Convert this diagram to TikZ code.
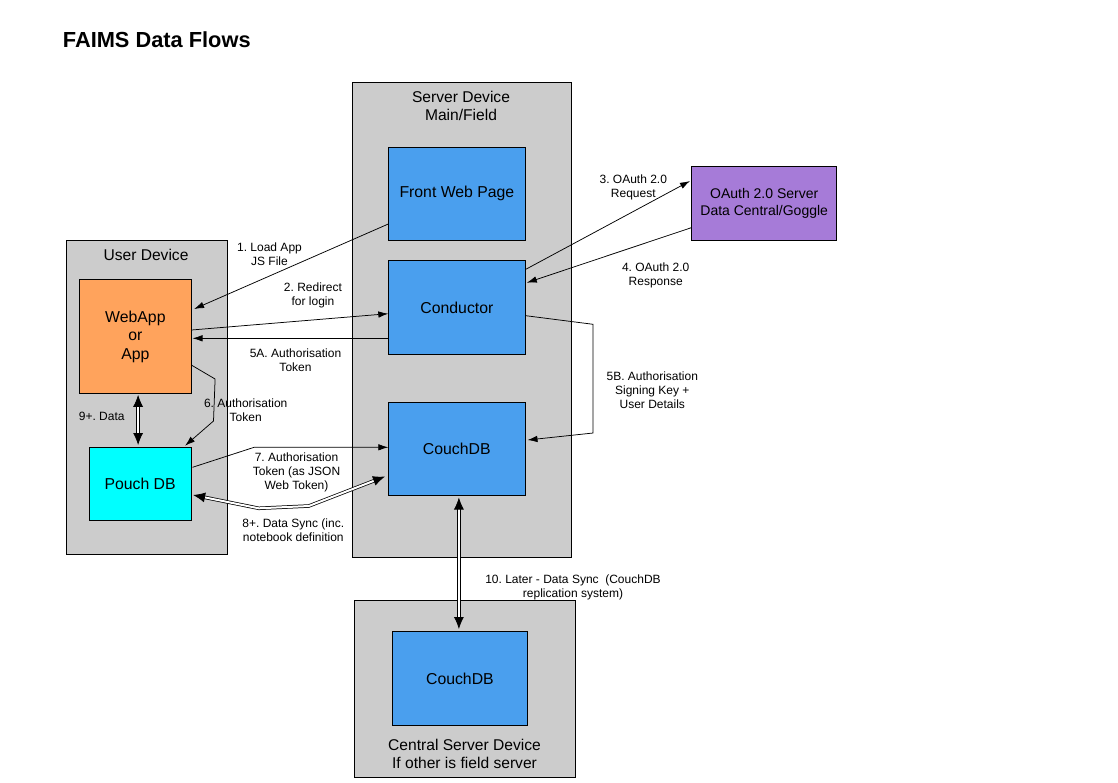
\documentclass[tikz,border=0pt]{standalone}
\usepackage{fontspec}
\setmainfont{Liberation Sans}
\usetikzlibrary{arrows.meta}
\definecolor{devgray}{HTML}{CCCCCC}
\definecolor{boxblue}{HTML}{4A9FEE}
\definecolor{apporange}{HTML}{FFA35C}
\definecolor{pouchcyan}{HTML}{00FFFF}
\definecolor{oauthpurple}{HTML}{A67BD8}
\begin{document}
\frenchspacing
\begin{tikzpicture}[x=1pt,y=-1pt,
  box/.style={draw=black, line width=0.8pt, anchor=north west, inner sep=0pt, align=center, font=\fontsize{15.8}{18.4}\selectfont\frenchspacing},
  device/.style={box, fill=devgray},
  comp/.style={box, fill=boxblue},
  lbl/.style={anchor=north, inner sep=0pt, align=center, font=\fontsize{12}{14}\selectfont\frenchspacing},
  devtitle/.style={anchor=north, inner sep=0pt, align=center, font=\fontsize{15.6}{18.4}\selectfont},
  flow/.style={draw, line width=0.75pt, -{Latex[length=10pt,width=6.5pt]}},
  sync/.style={draw, line width=0.75pt, double=white, double distance=2pt, {Latex[length=12pt,width=10pt]}-{Latex[length=12pt,width=10pt]}},
]
\useasboundingbox (0,0) rectangle (1118,782);
\fill[white] (0,0) rectangle (1118,782);

\node[anchor=base west, inner sep=0pt, font=\fontsize{21.8}{24}\selectfont\bfseries] (title) at (62.7,47.3) {FAIMS Data Flows};

% devices
\node[device, minimum width=161.6pt, minimum height=314pt] (user) at (65.7,240) {};
\node[device, minimum width=218.8pt, minimum height=475.3pt] (server) at (351.7,81.7) {};
\node[device, minimum width=221.3pt, minimum height=176.4pt] (central) at (354,600.3) {};

\node[devtitle] (userT) at (146,249.3) {User Device};
\node[devtitle] (serverT) at (461,90.5) {Server Device\\Main/Field};
\node[devtitle] (centralT) at (464.5,738.5) {Central Server Device\\If other is field server};

% components
\node[box, fill=apporange, minimum width=111.4pt, minimum height=114pt] (webapp) at (79.3,279.3) {WebApp\\or\\App};
\node[box, fill=pouchcyan, minimum width=102pt, minimum height=72.7pt] (pouch) at (88.7,447.3) {Pouch DB};
\node[comp, minimum width=136.4pt, minimum height=93.6pt] (front) at (388.3,146.7) {Front Web Page};
\node[comp, minimum width=136.4pt, minimum height=93.4pt] (conductor) at (388.3,260.3) {Conductor};
\node[comp, minimum width=136.2pt, minimum height=93.6pt] (couch) at (388.3,401.7) {CouchDB};
\node[box, fill=oauthpurple, minimum width=145pt, minimum height=74pt, font=\fontsize{14}{17}\selectfont] (oauth) at (691.3,166.3) {OAuth 2.0 Server\\Data Central/Goggle};
\node[comp, minimum width=135.6pt, minimum height=94pt] (ccouch) at (391.7,631) {CouchDB};

% connectors
\draw[flow] ([shift={(0,77.3)}]front.north west) -- ([shift={(2.6,29.7)}]webapp.north east);
\draw[flow] ([shift={(0,50.7)}]webapp.north east) -- ([shift={(0,53.4)}]conductor.north west);
\draw[flow] ([shift={(0,78)}]conductor.north west) -- ([shift={(1,59)}]webapp.north east);
\draw[flow] ([shift={(0.3,86)}]webapp.north east) -- ++(23.3,13.7) -- ++(-1.6,42) -- ([shift={(-6.4,-1.6)}]pouch.north east);
\draw[flow] ([shift={(1,20)}]pouch.north east) -- ++(61.6,-20) -- ([shift={(0,45.6)}]couch.north west);
\draw[sync] ([shift={(1.6,47.7)}]pouch.north east) -- ++(65.7,13.3) -- ++(50,-2.3) -- ([shift={(-3.3,74.8)}]couch.north west);
\draw[sync] ([shift={(2.7,0.7)}]webapp.south) -- ([shift={(-2,-2.3)}]pouch.north);
\draw[flow] ([shift={(0.3,9)}]conductor.north east) -- ([shift={(-1.3,14.7)}]oauth.north west);
\draw[flow] ([shift={(0,61.4)}]oauth.north west) -- ([shift={(1.3,22.4)}]conductor.north east);
\draw[flow] ([shift={(0.3,55.4)}]conductor.north east) -- ++(67.3,8.6) -- ++(0,108.7) -- ([shift={(2.2,38.3)}]couch.north east);
\draw[sync] ([shift={(2.1,1.4)}]couch.south) -- ([shift={(-1,-2)}]ccouch.north);

% labels
\node[lbl] (l1) at (269.5,242.4) {1. Load App\\JS File};
\node[lbl] (l2) at (313,282.7) {2. Redirect\\for login};
\node[lbl] (l5a) at (295.5,348.1) {5A. Authorisation\\Token};
\node[lbl] (l6) at (245.7,398.7) {6. Authorisation\\Token};
\node[lbl] (l9) at (101.7,412.1) {9+. Data};
\node[lbl] (l7) at (296.5,452.1) {7. Authorisation\\Token (as JSON\\Web Token)};
\node[lbl] (l8) at (293.3,518.7) {8+. Data Sync (inc.\\notebook definition};
\node[lbl] (l3) at (633.3,174.4) {3. OAuth 2.0\\Request};
\node[lbl] (l4) at (655.7,262.1) {4. OAuth 2.0\\Response};
\node[lbl] (l5b) at (652.3,371.4) {5B. Authorisation\\Signing Key +\\User Details};
\node[lbl] (l10) at (573,574.4) {10. Later - Data Sync\ \ (CouchDB\\replication system)};
\end{tikzpicture}
\end{document}
